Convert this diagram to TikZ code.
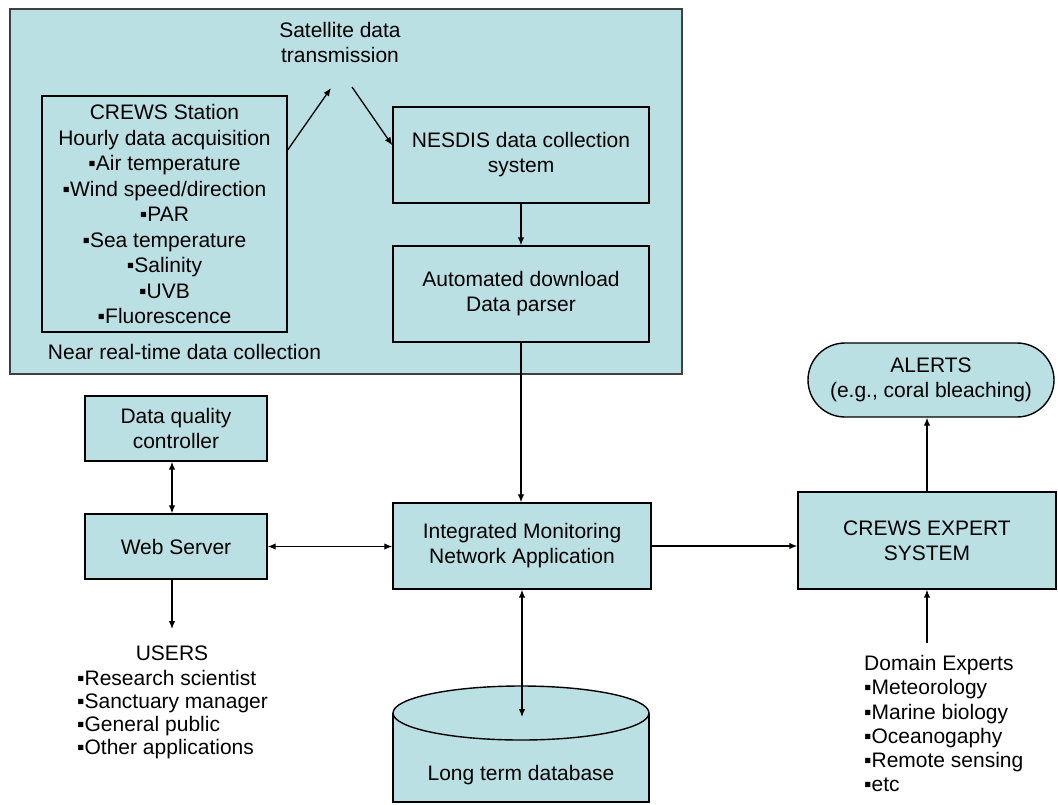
\documentclass[tikz,border=0pt]{standalone}
\usepackage{fontspec}
\setmainfont{Liberation Sans}
\usetikzlibrary{arrows.meta,calc}
\definecolor{boxfill}{RGB}{187,224,227}
\begin{document}
\begin{tikzpicture}[x=1pt,y=-1pt,
  txt/.style={font=\fontsize{21}{25}\selectfont, align=center, inner sep=0pt},
  box/.style={txt, draw=black, line width=1.4pt, fill=boxfill, rectangle},
  arr/.style={line width=1.3pt, -{Latex[length=8pt,width=6.5pt]}},
  darr/.style={line width=1.3pt, {Latex[length=8pt,width=6.5pt]}-{Latex[length=8pt,width=6.5pt]}},
]
\useasboundingbox (0,0) rectangle (1058,804);
% outer panel
\node[draw=black!75, line width=2pt, fill=boxfill, minimum width=672pt, minimum height=365pt, inner sep=0pt] (panel) at (346,191.5) {};
% panel content
\node[box, minimum width=245pt, minimum height=236pt, font=\fontsize{21}{25.5}\selectfont] (crews) at (164.5,214)
  {CREWS Station\\Hourly data acquisition\\▪Air temperature\\▪Wind speed/direction\\▪PAR\\▪Sea temperature\\▪Salinity\\▪UVB\\▪Fluorescence};
\node[txt] (near) at (184.5,352) {Near real-time data collection};
\node[txt] (sat) at (340,42.5) {Satellite data\\transmission};
\coordinate (satL) at (331,88);
\coordinate (satR) at (352,87);
\node[box, minimum width=256pt, minimum height=96pt] (nesdis) at (521,155) {NESDIS data collection\\system};
\node[box, minimum width=256pt, minimum height=96pt] (auto) at (521,294) {Automated download\\Data parser};
% lower part
\node[box, minimum width=258pt, minimum height=86pt] (imna) at (522,546) {Integrated Monitoring\\Network Application};
\node[box, minimum width=182pt, minimum height=65pt] (dqc) at (176,428.5) {Data quality\\controller};
\node[box, minimum width=182pt, minimum height=65pt] (ws) at (176,546.5) {Web Server};
\node[box, minimum width=258pt, minimum height=97pt] (cexp) at (927,540.5) {CREWS EXPERT\\SYSTEM};
\node[box, rounded corners=37pt, minimum width=246pt, minimum height=74pt] (alerts) at (931,380) {ALERTS\\(e.g., coral bleaching)};
% database cylinder
\fill[boxfill] (393,713) -- (393,802) -- (649,802) -- (649,713) -- cycle;
\draw[line width=1.4pt] (393,713) -- (393,802) -- (649,802) -- (649,713);
\draw[line width=1.4pt, fill=boxfill] (521,713) ellipse [x radius=128, y radius=27];
\node[txt] (db) at (521,775) {Long term database};
\coordinate (dbtop) at (522,717);
% users
\node[txt] (usersH) at (172,653) {USERS};
\node[txt, align=left, anchor=north west, font=\fontsize{21}{23}\selectfont] (usersL) at (77,670)
  {▪Research scientist\\▪Sanctuary manager\\▪General public\\▪Other applications};
\coordinate (usersArr) at (172,629);
% domain experts
\node[txt, align=left, anchor=north west, font=\fontsize{21}{24.3}\selectfont] (experts) at (864,655)
  {Domain Experts\\▪Meteorology\\▪Marine biology\\▪Oceanogaphy\\▪Remote sensing\\▪etc};
\coordinate (expArr) at (927,643);
% connectors
\draw[arr] ($(crews.north east)!0.23!(crews.south east)$) -- (satL);
\draw[arr] (satR) -- ($(nesdis.north west)!0.4!(nesdis.south west)$);
\draw[arr] (nesdis.south) -- (auto.north);
\draw[arr] (auto.south) -- (auto.south |- imna.north);
\draw[darr] ($(dqc.south)+(-4,0)$) -- ($(ws.north)+(-4,0)$);
\draw[arr] ($(ws.south)+(-4,0)$) -- (usersArr);
\draw[darr] (ws.east) -- (ws.east -| imna.west);
\draw[arr] (imna.east) -- (imna.east -| cexp.west);
\draw[arr] (cexp.north) -- (cexp.north |- alerts.south);
\draw[arr] (expArr) -- (cexp.south);
\draw[darr] (imna.south) -- (dbtop);
\end{tikzpicture}
\end{document}
